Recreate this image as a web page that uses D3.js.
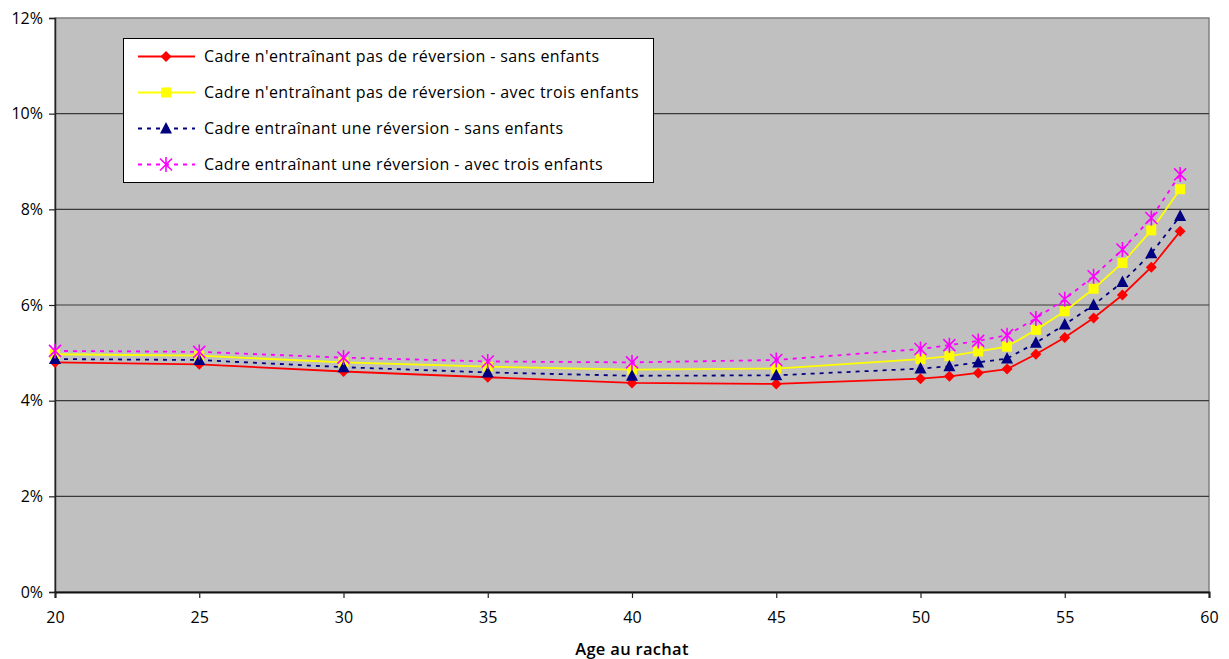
<!DOCTYPE html>
<html>
<head>
<meta charset="utf-8">
<script src="https://cdn.jsdelivr.net/npm/d3@7"></script>
<style>
  html, body { margin: 0; padding: 0; background: #ffffff; }
  svg { display: block; }
  text { font-family: "Open Sans", "DejaVu Sans", sans-serif; fill: #000; }
</style>
</head>
<body>
<svg id="chart" width="1229" height="659"></svg>
<script>
// Age at buy-back (x) and rate in percent (y) for each scenario
const ages = [20, 25, 30, 35, 40, 45, 50, 51, 52, 53, 54, 55, 56, 57, 58, 59];
const sansReversionSansEnfants = [4.80, 4.76, 4.61, 4.49, 4.37, 4.35, 4.46, 4.51, 4.58, 4.66, 4.97, 5.32, 5.73, 6.21, 6.79, 7.54];
const sansReversionTroisEnfants = [4.97, 4.94, 4.80, 4.71, 4.65, 4.67, 4.87, 4.93, 5.03, 5.13, 5.48, 5.87, 6.34, 6.88, 7.56, 8.42];
const reversionSansEnfants = [4.87, 4.85, 4.70, 4.59, 4.52, 4.53, 4.67, 4.72, 4.80, 4.88, 5.21, 5.59, 6.00, 6.48, 7.08, 7.86];
const reversionTroisEnfants = [5.04, 5.02, 4.90, 4.82, 4.80, 4.85, 5.08, 5.16, 5.25, 5.37, 5.72, 6.12, 6.60, 7.16, 7.82, 8.73];

const seriesNames = [
  "Cadre n'entraînant pas de réversion - sans enfants",
  "Cadre n'entraînant pas de réversion - avec trois enfants",
  "Cadre entraînant une réversion - sans enfants",
  "Cadre entraînant une réversion - avec trois enfants"
];
const xTicks = [20, 25, 30, 35, 40, 45, 50, 55, 60];
const yTicks = [0, 2, 4, 6, 8, 10, 12];
const xTitle = "Age au rachat";

const series = [
  { name: seriesNames[0], values: sansReversionSansEnfants, color: "#ff0000", dash: null, marker: "diamond" },
  { name: seriesNames[1], values: sansReversionTroisEnfants, color: "#ffff00", dash: null, marker: "square" },
  { name: seriesNames[2], values: reversionSansEnfants, color: "#000080", dash: "4,5", marker: "triangle" },
  { name: seriesNames[3], values: reversionTroisEnfants, color: "#ff00ff", dash: "4,5", marker: "star" }
];

const svg = d3.select("#chart");
const plot = { left: 55, right: 1209, top: 18, bottom: 592 };

const x = d3.scaleLinear().domain([20, 60]).range([plot.left, plot.right]);
const y = d3.scaleLinear().domain([0, 12]).range([plot.bottom, plot.top]);

// Plot background
svg.append("rect")
  .attr("x", plot.left).attr("y", plot.top)
  .attr("width", plot.right - plot.left).attr("height", plot.bottom - plot.top)
  .attr("fill", "#c0c0c0")
  .attr("stroke", "#808080").attr("stroke-width", 1.5);

// Horizontal gridlines
svg.append("g")
  .selectAll("line")
  .data(yTicks.filter(t => t > 0 && t < 12))
  .join("line")
  .attr("x1", plot.left).attr("x2", plot.right)
  .attr("y1", d => y(d)).attr("y2", d => y(d))
  .attr("stroke", "#3a3a3a").attr("stroke-width", 1.2);

// Y axis
const yAxis = svg.append("g")
  .attr("transform", `translate(${plot.left},0)`)
  .call(d3.axisLeft(y).tickValues(yTicks).tickFormat(d => d + "%").tickSize(6).tickPadding(6));
yAxis.select(".domain").attr("stroke", "#222").attr("stroke-width", 1.5);
yAxis.selectAll(".tick line").attr("stroke", "#222").attr("stroke-width", 1.2);
yAxis.selectAll(".tick text")
  .attr("font-family", "'Open Sans', sans-serif")
  .attr("font-size", 16).attr("fill", "#000");

// X axis
const xAxis = svg.append("g")
  .attr("transform", `translate(0,${plot.bottom})`)
  .call(d3.axisBottom(x).tickValues(xTicks).tickSize(6).tickPadding(14));
xAxis.select(".domain").attr("stroke", "#111").attr("stroke-width", 2);
xAxis.selectAll(".tick line").attr("stroke", "#222").attr("stroke-width", 1.2);
xAxis.selectAll(".tick text")
  .attr("font-family", "'Open Sans', sans-serif")
  .attr("font-size", 16).attr("fill", "#000");

svg.append("text")
  .attr("x", 632).attr("y", 655)
  .attr("text-anchor", "middle")
  .attr("font-size", 16.5).attr("font-weight", 600)
  .attr("letter-spacing", 0.3)
  .text(xTitle);

// Marker shapes
function drawMarker(g, kind, color) {
  if (kind === "diamond") {
    g.append("path").attr("d", "M0,-5.5L5.5,0L0,5.5L-5.5,0Z").attr("fill", color);
  } else if (kind === "square") {
    g.append("rect").attr("x", -5).attr("y", -5).attr("width", 10).attr("height", 10).attr("fill", color);
  } else if (kind === "triangle") {
    g.append("path").attr("d", "M0,-6.5L6,5L-6,5Z").attr("fill", color);
  } else if (kind === "star") {
    g.append("path")
      .attr("d", "M0,-7.5V7.5M-6,-6L6,6M-6,6L6,-6")
      .attr("stroke", color).attr("stroke-width", 1.6).attr("fill", "none");
  }
}

const line = d3.line().x((d, i) => x(ages[i])).y(d => y(d));

// Series lines and markers
series.forEach(s => {
  svg.append("path")
    .datum(s.values)
    .attr("d", line)
    .attr("fill", "none")
    .attr("stroke", s.color)
    .attr("stroke-width", 1.8)
    .attr("stroke-dasharray", s.dash);
});
series.forEach(s => {
  const g = svg.append("g");
  s.values.forEach((v, i) => {
    const m = g.append("g").attr("transform", `translate(${x(ages[i])},${y(v)})`);
    drawMarker(m, s.marker, s.color);
  });
});

// Legend
const legend = svg.append("g");
legend.append("rect")
  .attr("x", 123.5).attr("y", 38.5).attr("width", 530).attr("height", 144)
  .attr("fill", "#ffffff").attr("stroke", "#000").attr("stroke-width", 1);
const rowY = [56.5, 92.5, 128.5, 164.5];
series.forEach((s, i) => {
  const ly = rowY[i];
  legend.append("line")
    .attr("x1", 138).attr("x2", 195).attr("y1", ly).attr("y2", ly)
    .attr("stroke", s.color).attr("stroke-width", 1.8)
    .attr("stroke-dasharray", s.dash);
  const m = legend.append("g").attr("transform", `translate(166,${ly})`);
  drawMarker(m, s.marker, s.color);
  legend.append("text")
    .attr("x", 204).attr("y", ly + 5.5)
    .attr("font-size", 16)
    .attr("letter-spacing", 0.4)
    .text(s.name);
});
</script>
</body>
</html>
